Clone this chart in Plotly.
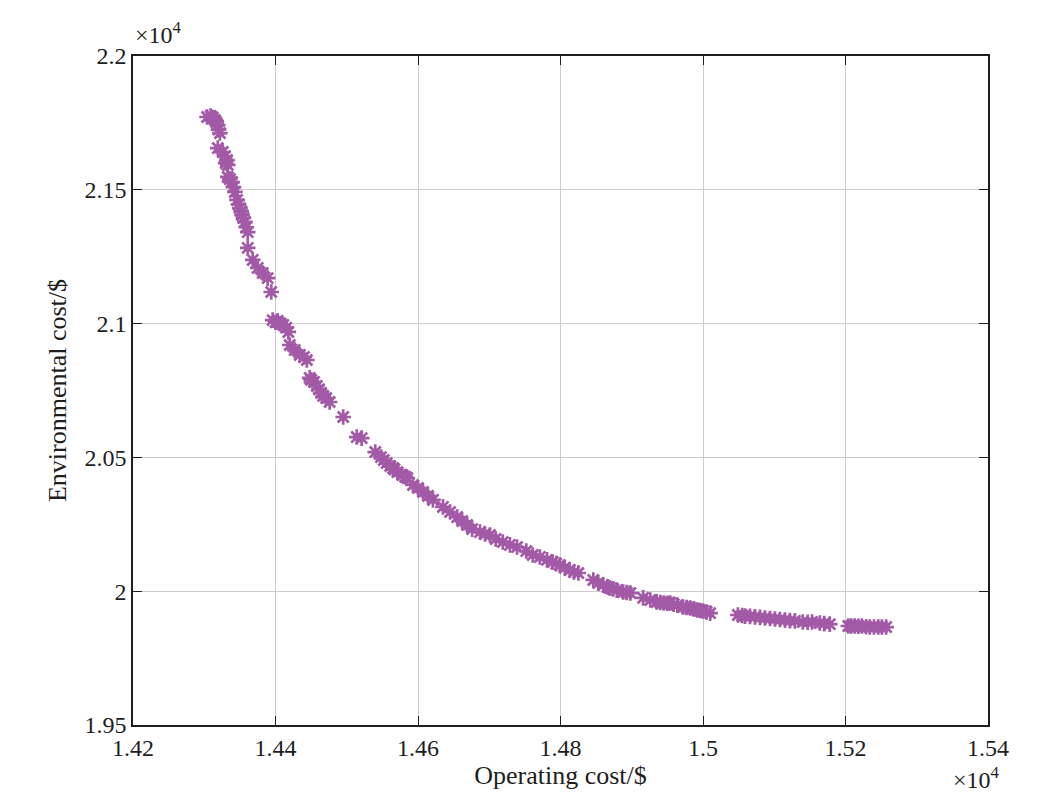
import plotly.graph_objects as go

operating_cost = [14304, 14309, 14315, 14319, 14322, 14319, 14326, 14332, 14333, 14333,
                  14339, 14343, 14346, 14350, 14353, 14357, 14361, 14361, 14368, 14375,
                  14382, 14389, 14394, 14396, 14403, 14411, 14418, 14420, 14427, 14434,
                  14444, 14448, 14454, 14458, 14464, 14471, 14476, 14495, 14514, 14521,
                  14540, 14548, 14556, 14561, 14565, 14571, 14578, 14585, 14593, 14600,
                  14607, 14614, 14621, 14635, 14645, 14655, 14662, 14669, 14676, 14687,
                  14694, 14701, 14709, 14719, 14729, 14739, 14752, 14761, 14771, 14781,
                  14789, 14799, 14813, 14825, 14846, 14853, 14860, 14869, 14879, 14888,
                  14898, 14916, 14926, 14935, 14945, 14954, 14964, 14972, 14982, 14992,
                  15000, 15010, 15049, 15059, 15073, 15087, 15101, 15115, 15129, 15140,
                  15153, 15164, 15178, 15204, 15213, 15223, 15234, 15246, 15257,
                  14312, 14317, 14320, 14329, 14330, 14336, 14341, 14348, 14352, 14355,
                  14359, 14400, 14407, 14415, 14440, 14450, 14461, 14467, 14552, 14567,
                  14582, 15055, 15066, 15080, 15094, 15108, 15122, 15147, 15170, 15208,
                  15218, 15229, 15240, 15251, 14794, 14806, 14819, 14866, 14874, 14893,
                  14940, 14950, 14959, 14977, 14987, 14996, 15005]
environmental_cost = [21772, 21776, 21761, 21742, 21712, 21656, 21641, 21611, 21593, 21548,
                      21529, 21492, 21462, 21432, 21406, 21380, 21342, 21283, 21238, 21208,
                      21189, 21170, 21118, 21013, 21010, 20995, 20969, 20920, 20901, 20883,
                      20864, 20797, 20782, 20767, 20741, 20722, 20707, 20651, 20576, 20572,
                      20520, 20501, 20479, 20468, 20460, 20445, 20434, 20423, 20397, 20386,
                      20371, 20356, 20341, 20315, 20296, 20277, 20262, 20247, 20232, 20221,
                      20214, 20210, 20195, 20184, 20173, 20165, 20150, 20135, 20128, 20117,
                      20109, 20098, 20079, 20068, 20042, 20031, 20023, 20012, 20004, 19997,
                      19993, 19975, 19967, 19960, 19956, 19956, 19948, 19941, 19937, 19930,
                      19926, 19918, 19911, 19907, 19904, 19900, 19896, 19892, 19889, 19885,
                      19885, 19881, 19877, 19870, 19870, 19870, 19866, 19866, 19866,
                      21770, 21752, 21725, 21625, 21600, 21540, 21510, 21445, 21420, 21395,
                      21360, 21005, 21000, 20985, 20875, 20790, 20755, 20730, 20490, 20455,
                      20428, 19909, 19906, 19902, 19898, 19894, 19890, 19884, 19879, 19870,
                      19869, 19867, 19866, 19866, 20103, 20088, 20072, 20016, 20008, 19995,
                      19958, 19955, 19951, 19939, 19934, 19928, 19922]

x_tickvals = [14200, 14400, 14600, 14800, 15000, 15200, 15400]
x_ticktext = ["1.42", "1.44", "1.46", "1.48", "1.5", "1.52", "1.54"]
y_tickvals = [19500, 20000, 20500, 21000, 21500, 22000]
y_ticktext = ["1.95", "2", "2.05", "2.1", "2.15", "2.2"]

color = "rgb(162,90,166)"
font = "Liberation Serif, Times New Roman, serif"

fig = go.Figure()
fig.add_trace(go.Scatter(
    x=operating_cost, y=environmental_cost, mode="markers",
    marker=dict(symbol="asterisk-open", size=13, color=color,
                line=dict(color=color, width=2.7)),
    showlegend=False,
))

axis_common = dict(
    showgrid=True, gridcolor="rgb(205,205,205)", gridwidth=1.3,
    showline=True, linecolor="rgb(30,30,30)", linewidth=1.5, mirror="ticks",
    ticks="inside", ticklen=9, tickcolor="rgb(30,30,30)", tickwidth=1.2,
    zeroline=False,
    tickfont=dict(family=font, size=24, color="rgb(30,30,30)"),
)

fig.update_xaxes(range=[14200, 15400], tickvals=x_tickvals, ticktext=x_ticktext,
                 title=dict(text="Operating cost/$", font=dict(family=font, size=26, color="rgb(30,30,30)"),
                            standoff=6),
                 **axis_common)
fig.update_yaxes(range=[19500, 22000], tickvals=y_tickvals, ticktext=y_ticktext,
                 title=dict(text="Environmental cost/$", font=dict(family=font, size=26, color="rgb(30,30,30)"),
                            standoff=10),
                 **axis_common)

fig.add_annotation(text="×10<sup>4</sup>", xref="paper", yref="paper", x=0.0, y=1.0,
                   xanchor="left", yanchor="bottom", yshift=6, showarrow=False,
                   font=dict(family=font, size=24, color="rgb(30,30,30)"))
fig.add_annotation(text="×10<sup>4</sup>", xref="paper", yref="paper", x=1.0, y=0.0,
                   xanchor="right", yanchor="top", yshift=-36, xshift=14, showarrow=False,
                   font=dict(family=font, size=24, color="rgb(30,30,30)"))

fig.update_layout(
    width=1045, height=812,
    margin=dict(l=125, r=65, t=48, b=95),
    plot_bgcolor="white", paper_bgcolor="white",
)

fig.write_html("out.html")
